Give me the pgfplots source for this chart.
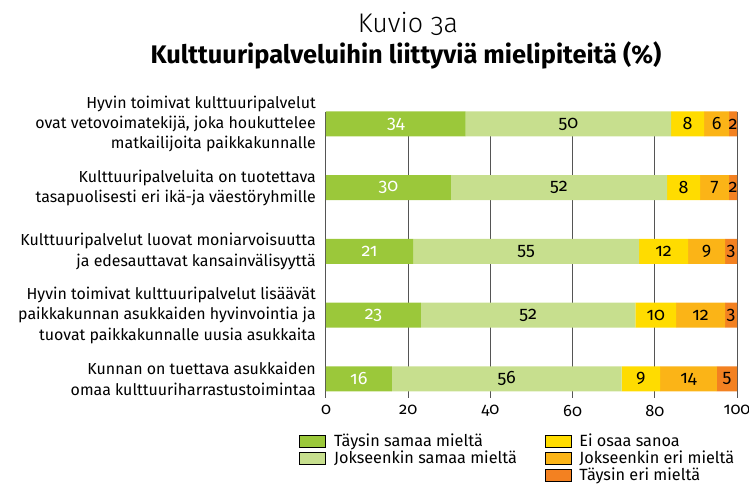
\documentclass[border=0pt]{standalone}
\usepackage{fontspec}
\setmainfont{Fira Sans}[Numbers=OldStyle]
\newfontfamily\lightfont{Fira Sans Light}[Numbers=OldStyle]
\usepackage{pgfplots}
\pgfplotsset{compat=1.18}
\definecolor{dgreen}{HTML}{9BC83A}
\definecolor{lgreen}{HTML}{C7DF8E}
\definecolor{cyellow}{HTML}{FFDC00}
\definecolor{oyellow}{HTML}{FBB417}
\definecolor{corange}{HTML}{F38121}
\definecolor{gridc}{HTML}{555555}
\begin{document}
\begin{tikzpicture}
\useasboundingbox (-326bp,-87bp) rectangle (423bp,398bp);
\begin{axis}[
  at={(0,0)}, anchor=south west,
  scale only axis, width=411bp, height=286bp,
  xbar stacked, bar width=25bp,
  xmin=0, xmax=100, ymin=0.812, ymax=5.30, y dir=reverse,
  xtick={0,20,...,100}, ytick={1,2,3,4,5},
  yticklabels={
    {Hyvin toimivat kulttuuripalvelut\\ovat vetovoimatekijä, joka houkuttelee\\matkailijoita paikkakunnalle},
    {Kulttuuripalveluita on tuotettava\\tasapuolisesti eri ikä-ja väestöryhmille},
    {Kulttuuripalvelut luovat moniarvoisuutta\\ja edesauttavat kansainvälisyyttä},
    {Hyvin toimivat kulttuuripalvelut lisäävät\\paikkakunnan asukkaiden hyvinvointia ja\\tuovat paikkakunnalle uusia asukkaita},
    {Kunnan on tuettava asukkaiden\\omaa kulttuuriharrastustoimintaa}},
  yticklabel style={align=right, font=\fontsize{16}{20.5}\selectfont, inner sep=0pt, xshift=-10bp},
  xticklabel style={font=\fontsize{16.5}{18}\selectfont, yshift=-4bp},
  /pgf/number format/assume math mode=true,
  xmajorgrids, major grid style={gridc, line width=1bp},
  axis line style={draw=none}, tick style={draw=none},
  legend columns=2,
  legend cell align=left,
  legend image code/.code={\fill[#1] (0bp,-6bp) rectangle (26bp,6bp);},
  legend style={draw=none, fill=none, at={(-0.0657,-0.119)}, anchor=north west,
    font=\fontsize{16.3}{18}\selectfont, inner sep=0pt, row sep=0bp,
    nodes={inner sep=1.5bp},
    /tikz/column 1/.style={column sep=7bp},
    /tikz/column 2/.style={column sep=26bp},
    /tikz/column 3/.style={column sep=7bp}},
  point meta=explicit,
  nodes near coords={\pgfmathprintnumber[fixed,precision=0]{\pgfplotspointmeta}},
  every node near coord/.append style={anchor=center, font=\fontsize{18}{19}\selectfont},
]
\addplot[forget plot, fill=dgreen, draw=none, every node near coord/.append style={text=white}] coordinates {(34,1)[34] (30.4,2)[30] (21.2,3)[21] (23.1,4)[23] (16,5)[16]};
\addplot[forget plot, fill=lgreen, draw=none] coordinates {(50,1)[50] (52.6,2)[52] (55,3)[55] (52.2,4)[52] (55.9,5)[56]};
\addplot[forget plot, fill=cyellow, draw=none] coordinates {(8,1)[8] (8,2)[8] (11.9,3)[12] (9.9,4)[10] (9.4,5)[9]};
\addplot[forget plot, fill=oyellow, draw=none] coordinates {(6.1,1)[6] (7.1,2)[7] (9,3)[9] (11.9,4)[12] (13.8,5)[14]};
\addplot[forget plot, fill=corange, draw=none] coordinates {(1.9,1)[2] (1.9,2)[2] (2.9,3)[3] (2.9,4)[3] (4.9,5)[5]};
\addlegendimage{fill=dgreen}\addlegendentry{Täysin samaa mieltä}
\addlegendimage{fill=cyellow}\addlegendentry{Ei osaa sanoa}
\addlegendimage{fill=lgreen}\addlegendentry{Jokseenkin samaa mieltä}
\addlegendimage{fill=oyellow}\addlegendentry{Jokseenkin eri mieltä}
\addlegendimage{empty legend}\addlegendentry{}
\addlegendimage{fill=corange}\addlegendentry{Täysin eri mieltä}
\end{axis}
\node[font=\lightfont\fontsize{27}{30}\selectfont] at (82bp,374bp) {Kuvio 3a};
\node[font=\bfseries\fontsize{25.5}{28}\selectfont] at (80bp,343bp) {Kulttuuripalveluihin liittyviä mielipiteitä (\%)};
\end{tikzpicture}
\end{document}
